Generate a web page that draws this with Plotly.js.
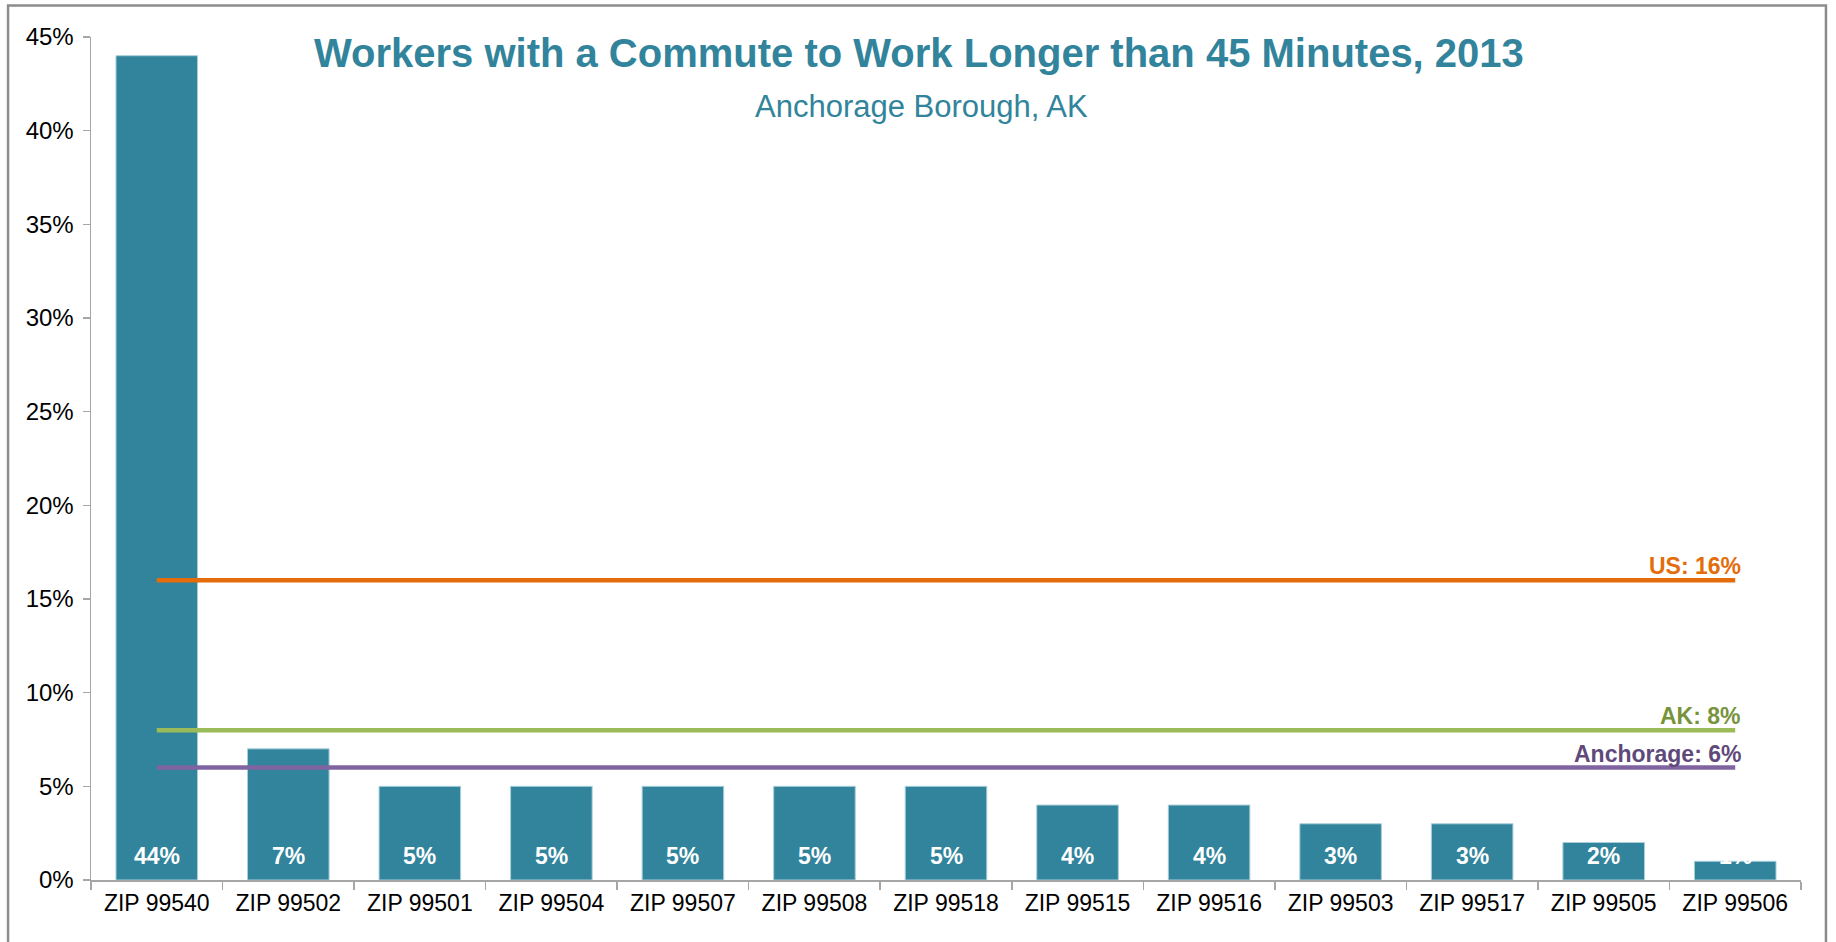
<!DOCTYPE html>
<html>
<head>
<meta charset="utf-8">
<script src="https://cdn.plot.ly/plotly-3.0.1.min.js"></script>
<style>
html, body { margin: 0; padding: 0; background: #fff; }
#chart { width: 1836px; height: 942px; }
</style>
</head>
<body>
<div id="chart"></div>
<script>
const categories = ["ZIP 99540", "ZIP 99502", "ZIP 99501", "ZIP 99504", "ZIP 99507", "ZIP 99508", "ZIP 99518", "ZIP 99515", "ZIP 99516", "ZIP 99503", "ZIP 99517", "ZIP 99505", "ZIP 99506"];
const values = [44, 7, 5, 5, 5, 5, 5, 4, 4, 3, 3, 2, 1];
const refNames = ["US", "AK", "Anchorage"];
const refValues = [16, 8, 6];
const yTickVals = [0, 5, 10, 15, 20, 25, 30, 35, 40, 45];
const titleText = "Workers with a Commute to Work Longer than 45 Minutes, 2013";
const subtitleText = "Anchorage Borough, AK";

const narrow = "Liberation Sans Narrow, Arial Narrow, Liberation Sans, Arial, sans-serif";
const teal = "#31849B";
const refLineColors = ["#E46C0A", "#9BBB59", "#8064A2"];
const refTextColors = ["#E46C0A", "#77933C", "#5F497A"];

const traces = [{
  type: "bar",
  x: categories,
  y: values,
  width: 0.62,
  marker: { color: teal, line: { color: "#A8CFD9", width: 1 } },
  hoverinfo: "x+y"
}];

refValues.forEach((v, i) => {
  traces.push({
    type: "scatter",
    mode: "lines",
    x: [categories[0], categories[categories.length - 1]],
    y: [v, v],
    line: { color: refLineColors[i], width: 4.5 },
    hoverinfo: "y"
  });
});

const annotations = values.map((v, i) => ({
  x: categories[i], y: 0, xref: "x", yref: "y",
  text: "<b>" + v + "%</b>",
  showarrow: false, yanchor: "bottom", yshift: 9,
  font: { family: narrow, size: 23, color: "#ffffff" }
}));

refValues.forEach((v, i) => {
  annotations.push({
    x: categories[categories.length - 1], y: v, xref: "x", yref: "y",
    text: "<b>" + refNames[i] + ": " + v + "%</b>",
    showarrow: false, xanchor: "right", yanchor: "bottom", xshift: 8, yshift: -1,
    font: { family: narrow, size: 23, color: refTextColors[i] }
  });
});

annotations.push({
  x: 0.4857, y: 0.918, xref: "paper", yref: "paper",
  text: subtitleText, showarrow: false, xanchor: "center", yanchor: "middle",
  font: { family: narrow, size: 31, color: teal }
});

const layout = {
  width: 1836, height: 942,
  margin: { l: 91, r: 35, t: 37, b: 62 },
  paper_bgcolor: "#ffffff",
  plot_bgcolor: "#ffffff",
  showlegend: false,
  title: {
    text: "<b>" + titleText + "</b>",
    x: 0.5005, xanchor: "center", y: 0.9437, yanchor: "middle",
    font: { family: narrow, size: 40, color: teal }
  },
  xaxis: {
    type: "category",
    showgrid: false, zeroline: false,
    showline: true, linecolor: "#A6A6A6", linewidth: 1.5,
    ticks: "outside", tickson: "boundaries", ticklen: 8, tickcolor: "#A6A6A6", tickwidth: 1.5,
    ticklabelstandoff: 2,
    tickfont: { family: narrow, size: 23, color: "#000000" }
  },
  yaxis: {
    range: [0, 45],
    tickvals: yTickVals, ticktext: yTickVals.map(v => v + "%"),
    showgrid: false, zeroline: false,
    showline: true, linecolor: "#A6A6A6", linewidth: 1.5,
    ticks: "outside", ticklen: 7, tickcolor: "#A6A6A6", tickwidth: 1.5,
    ticklabelstandoff: 4,
    tickfont: { family: "Liberation Sans, Arial, sans-serif", size: 24, color: "#000000" }
  },
  annotations: annotations,
  shapes: [{
    type: "rect", xref: "paper", yref: "paper",
    x0: -0.0485, x1: 1.0146, y0: -0.08, y1: 1.0374,
    line: { color: "#8C8C8C", width: 2.5 }, fillcolor: "rgba(0,0,0,0)"
  }]
};

Plotly.newPlot("chart", traces, layout, { displayModeBar: false, staticPlot: true });
</script>
</body>
</html>
